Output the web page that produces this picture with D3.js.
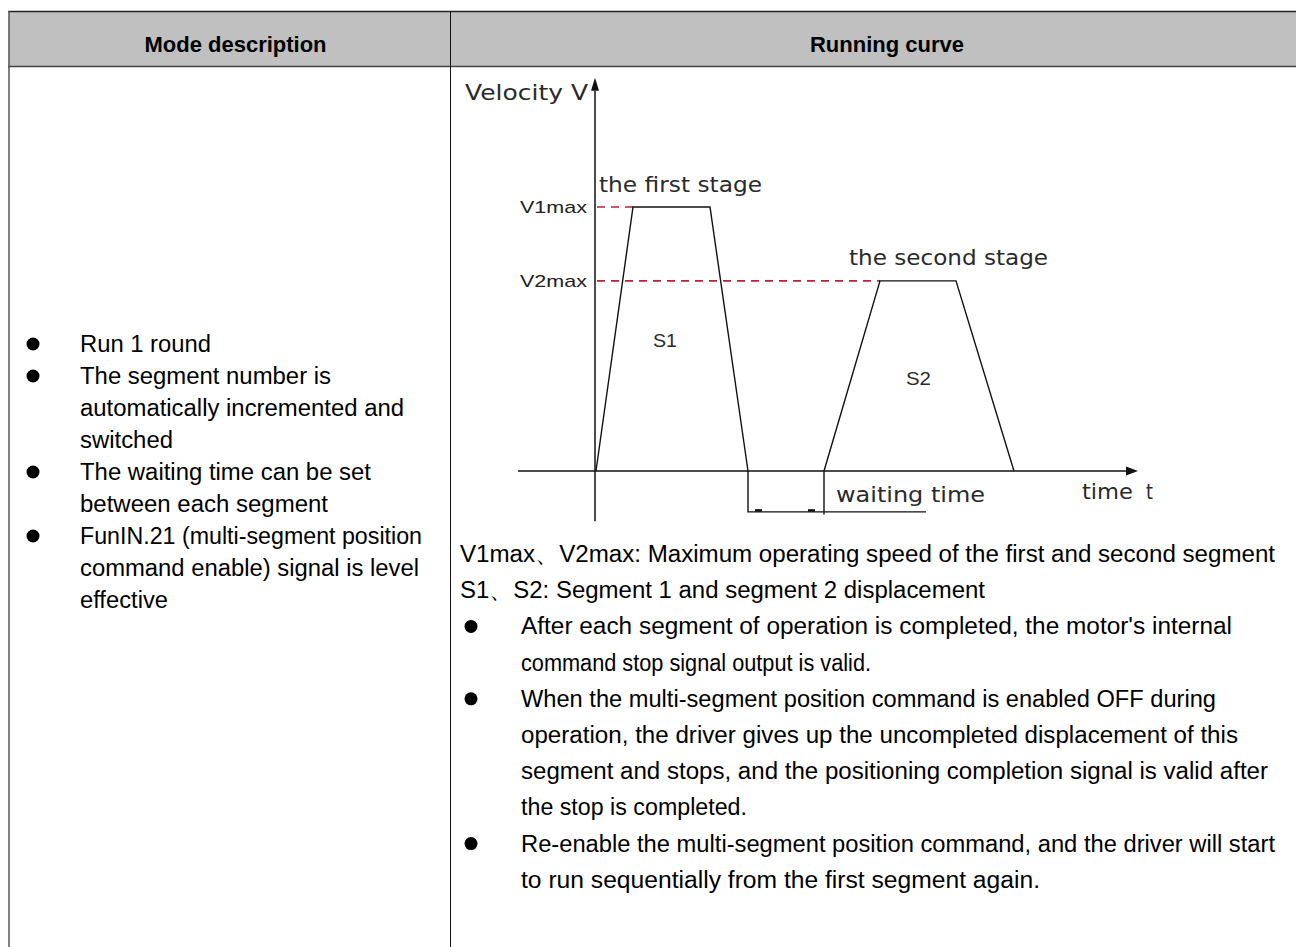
<!DOCTYPE html>
<html><head><meta charset="utf-8">
<script src="https://cdn.jsdelivr.net/npm/d3@7"></script>
<style>body{margin:0;background:#fff}svg{display:block}</style>
</head><body>
<script>
// ---------- data ----------
const headers = ["Mode description", "Running curve"];
const leftBullets = [
  ["Run 1 round"],
  ["The segment number is", "automatically incremented and", "switched"],
  ["The waiting time can be set", "between each segment"],
  ["FunIN.21 (multi-segment position", "command enable) signal is level", "effective"]
];
const notes = [
  "V1max、V2max: Maximum operating speed of the first and second segment",
  "S1、S2: Segment 1 and segment 2 displacement"
];
const rightBullets = [
  ["After each segment of operation is completed, the motor's internal", "command stop signal output is valid."],
  ["When the multi-segment position command is enabled OFF during", "operation, the driver gives up the uncompleted displacement of this", "segment and stops, and the positioning completion signal is valid after", "the stop is completed."],
  ["Re-enable the multi-segment position command, and the driver will start", "to run sequentially from the first segment again."]
];
const stage1Time = [0, 3.7, 11.4, 15.2];
const stage1Vel  = [0, 1, 1, 0];
const stage2Time = [22.8, 28.4, 36.0, 41.8];
const stage2Vel  = [0, 0.72, 0.72, 0];
const levelLabels = ["V1max", "V2max"];
const levelValues = [1, 0.72];
const levelEndTime = [3.7, 28.4];
const stageLabels = ["the first stage", "the second stage"];
const areaLabels = ["S1", "S2"];
const waitStart = 15.2, waitEnd = 22.8, waitExtent = 33.0;
const yAxisLabel = "Velocity V";
const xAxisLabel = ["time", "t"];
const waitLabel = "waiting time";

// ---------- layout ----------
const W = 1296, H = 947;
const svg = d3.select("body").append("svg").attr("width", W).attr("height", H);
const colX = 450.5, leftX = 9;

// header
svg.append("rect").attr("x", leftX).attr("y", 11).attr("width", W - leftX).attr("height", 55).attr("fill", "#c0c0c0");
svg.append("line").attr("x1", 8).attr("x2", W).attr("y1", 11.5).attr("y2", 11.5).attr("stroke", "#222").attr("stroke-width", 1.5);
svg.append("line").attr("x1", 8).attr("x2", W).attr("y1", 66.5).attr("y2", 66.5).attr("stroke", "#444").attr("stroke-width", 1.5);
svg.append("line").attr("x1", leftX).attr("x2", leftX).attr("y1", 11).attr("y2", H).attr("stroke", "#555").attr("stroke-width", 1.5);
svg.append("line").attr("x1", colX).attr("x2", colX).attr("y1", 11).attr("y2", H).attr("stroke", "#111").attr("stroke-width", 1);

const headerX = [235.5, 887];
svg.selectAll("text.hdr").data(headers).join("text").attr("class", "hdr")
  .attr("x", (d, i) => headerX[i]).attr("y", 52)
  .attr("text-anchor", "middle").attr("font-family", "Liberation Sans, Arial, sans-serif")
  .attr("font-weight", "bold").attr("font-size", 22).attr("fill", "#000").text(d => d);

// left column
const tf = "Liberation Sans, Arial, sans-serif";
const leftW = [131, 251, 324, 93, 291, 248, 342, 339, 88];
let li = 0;
leftBullets.forEach(group => {
  group.forEach((line, j) => {
    const by = 352 + 32 * li;
    if (j === 0) svg.append("circle").attr("cx", 33).attr("cy", by - 8).attr("r", 6.5).attr("fill", "#000");
    svg.append("text").attr("x", 80).attr("y", by).attr("font-family", tf).attr("font-size", 23)
      .attr("textLength", leftW[li]).attr("lengthAdjust", "spacingAndGlyphs").attr("fill", "#000").text(line);
    li++;
  });
});

// right column text
const rightW = [815, 525, 711, 350, 695, 717, 747, 226, 754, 519];
let ri = 0;
const rY = i => 562 + 36.2 * i;
notes.forEach(n => {
  svg.append("text").attr("x", 460).attr("y", rY(ri)).attr("font-family", tf).attr("font-size", 23)
    .attr("textLength", rightW[ri]).attr("lengthAdjust", "spacingAndGlyphs").attr("fill", "#000").text(n);
  ri++;
});
rightBullets.forEach(group => {
  group.forEach((line, j) => {
    const by = rY(ri);
    if (j === 0) svg.append("circle").attr("cx", 471).attr("cy", by - 8).attr("r", 6.5).attr("fill", "#000");
    svg.append("text").attr("x", 521).attr("y", by).attr("font-family", tf).attr("font-size", 23)
      .attr("textLength", rightW[ri]).attr("lengthAdjust", "spacingAndGlyphs").attr("fill", "#000").text(line);
    ri++;
  });
});

// ---------- chart ----------
const x = d3.scaleLinear().domain([0, 10]).range([596, 696]);
const y = d3.scaleLinear().domain([0, 1]).range([471, 207]);
const g = svg.append("g");
const cf = "DejaVu Sans, Tahoma, sans-serif";
const ink = "#111";

// axes
g.append("line").attr("x1", x(-7.8)).attr("x2", x(53.2)).attr("y1", y(0)).attr("y2", y(0)).attr("stroke", ink).attr("stroke-width", 1.5);
g.append("path").attr("d", d3.line()([[x(54.2), y(0)], [x(53.0), y(0) - 4.5], [x(53.0), y(0) + 4.5]]) + "Z").attr("fill", ink);
g.append("line").attr("x1", x(0) - 1).attr("x2", x(0) - 1).attr("y1", y(-0.19)).attr("y2", y(1.44)).attr("stroke", ink).attr("stroke-width", 1.5);
g.append("path").attr("d", d3.line()([[x(0) - 1, y(1.49)], [x(0) - 5, y(1.44)], [x(0) + 3, y(1.44)]]) + "Z").attr("fill", ink);

// dashed level lines
levelValues.forEach((v, i) => {
  g.append("line").attr("x1", x(0) + 1).attr("x2", x(levelEndTime[i])).attr("y1", y(v)).attr("y2", y(v))
    .attr("stroke", "#bf1e3c").attr("stroke-width", 1.6).attr("stroke-dasharray", "8,6");
  g.append("text").attr("x", x(0) - 9).attr("y", y(v) + 6).attr("text-anchor", "end")
    .attr("font-family", tf).attr("font-size", 17).attr("textLength", 67).attr("lengthAdjust", "spacingAndGlyphs")
    .attr("fill", "#222").text(levelLabels[i]);
});

// stage trapezoids
const line = d3.line().x(d => x(d[0])).y(d => y(d[1]));
[[stage1Time, stage1Vel], [stage2Time, stage2Vel]].forEach(([t, v]) => {
  g.append("path").attr("d", line(t.map((tt, k) => [tt, v[k]]))).attr("fill", "none")
    .attr("stroke", ink).attr("stroke-width", 1.4);
});

// waiting time bracket
const wy = y(-0.155);
g.append("path").attr("d", line([[waitStart, 0], [waitStart, -0.155], [waitExtent, -0.155]])).attr("fill", "none").attr("stroke", ink).attr("stroke-width", 1.4);
g.append("line").attr("x1", x(waitEnd)).attr("x2", x(waitEnd)).attr("y1", y(0)).attr("y2", y(-0.165)).attr("stroke", ink).attr("stroke-width", 1.4);
[[15.9, 16.6], [21.2, 21.9]].forEach(([a, b]) => {
  g.append("line").attr("x1", x(a)).attr("x2", x(b)).attr("y1", wy - 1.5).attr("y2", wy - 1.5).attr("stroke", ink).attr("stroke-width", 2.5);
});

// chart labels
function lab(txt, x0, y0, w, fs) {
  g.append("text").attr("x", x0).attr("y", y0).attr("font-family", cf).attr("font-size", fs)
    .attr("textLength", w).attr("lengthAdjust", "spacingAndGlyphs").attr("fill", "#2a2a2a").text(txt);
}
lab(yAxisLabel, 465, 100, 123, 22);
lab(stageLabels[0], x(0) + 3, y(levelValues[0]) - 15, 163, 22);
lab(stageLabels[1], x(levelEndTime[1]) - 31, y(levelValues[1]) - 16, 199, 22);
lab(waitLabel, x(waitEnd) + 12, y(0) + 31, 149, 22);
lab(xAxisLabel[0], 1082, y(0) + 28, 51, 22);
lab(xAxisLabel[1], 1146, y(0) + 28, 7, 22);
g.append("text").attr("x", x(5.7)).attr("y", y(0.47)).attr("font-family", tf).attr("font-size", 18)
  .attr("textLength", 24).attr("lengthAdjust", "spacingAndGlyphs").attr("fill", "#2a2a2a").text(areaLabels[0]);
g.append("text").attr("x", x(31.0)).attr("y", y(0.325)).attr("font-family", tf).attr("font-size", 18)
  .attr("textLength", 25).attr("lengthAdjust", "spacingAndGlyphs").attr("fill", "#2a2a2a").text(areaLabels[1]);
</script>
</body></html>
